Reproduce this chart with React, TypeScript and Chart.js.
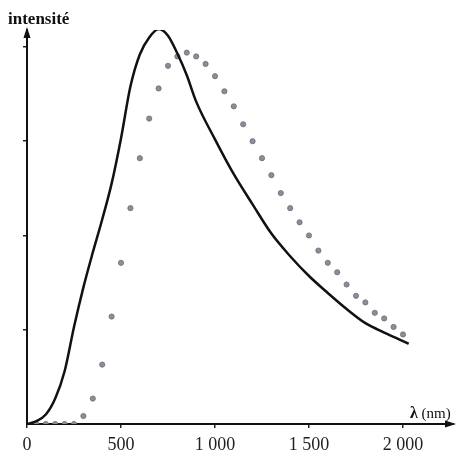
import React, { useEffect, useRef } from "react";
import { Chart, registerables } from "chart.js";

Chart.register(...registerables);

// Solid curve (nm, intensity units)
const lineX = [0, 50, 100, 150, 200, 250, 300, 350, 400, 450, 500, 550, 600, 650, 700, 750, 800, 850, 900, 1000, 1100, 1200, 1300, 1400, 1500, 1600, 1700, 1800, 1900, 2000, 2030];
const lineY = [0, 0.03, 0.1, 0.27, 0.56, 1.03, 1.45, 1.82, 2.17, 2.55, 3.03, 3.58, 3.92, 4.1, 4.19, 4.12, 3.93, 3.7, 3.42, 3.02, 2.65, 2.33, 2.02, 1.78, 1.57, 1.39, 1.22, 1.07, 0.97, 0.88, 0.85];

// Dotted curve
const dotX = [50, 100, 150, 200, 250, 300, 350, 400, 450, 500, 550, 600, 650, 700, 750, 800, 850, 900, 950, 1000, 1050, 1100, 1150, 1200, 1250, 1300, 1350, 1400, 1450, 1500, 1550, 1600, 1650, 1700, 1750, 1800, 1850, 1900, 1950, 2000];
const dotY = [0, 0, 0, 0, 0, 0.085, 0.27, 0.63, 1.14, 1.71, 2.29, 2.82, 3.24, 3.56, 3.8, 3.9, 3.94, 3.9, 3.82, 3.69, 3.53, 3.37, 3.18, 3.0, 2.82, 2.64, 2.45, 2.29, 2.14, 2.0, 1.84, 1.71, 1.61, 1.48, 1.36, 1.29, 1.18, 1.12, 1.03, 0.95];

const xTickValues = [0, 500, 1000, 1500, 2000];
const xTickLabels = ["0", "500", "1 000", "1 500", "2 000"];
const yTickValues = [1, 2, 3, 4];

const yTitle = "intensité";
const xTitleSymbol = "λ";
const xTitleUnit = " (nm)";

const SERIF = '"Liberation Serif", "DejaVu Serif", serif';

const decorPlugin = {
  id: "decor",
  afterDraw(chart: any) {
    const { ctx, chartArea } = chart;
    const { left, top, right, bottom } = chartArea;
    ctx.save();
    ctx.fillStyle = "#111";
    // y arrow
    ctx.beginPath();
    ctx.moveTo(left, top - 3);
    ctx.lineTo(left - 3.5, top + 8);
    ctx.lineTo(left + 3.5, top + 8);
    ctx.closePath();
    ctx.fill();
    // x arrow
    ctx.beginPath();
    ctx.moveTo(right + 3, bottom);
    ctx.lineTo(right - 8, bottom - 3.5);
    ctx.lineTo(right - 8, bottom + 3.5);
    ctx.closePath();
    ctx.fill();
    // titles
    ctx.textBaseline = "alphabetic";
    ctx.textAlign = "left";
    ctx.font = `bold 17px ${SERIF}`;
    ctx.fillText(yTitle, 8, 24);
    ctx.font = `bold 16px ${SERIF}`;
    ctx.fillText(xTitleSymbol, 410, 418);
    const w = ctx.measureText(xTitleSymbol).width;
    ctx.font = `15px ${SERIF}`;
    ctx.fillText(xTitleUnit, 410 + w, 418);
    ctx.restore();
  },
};

export default function App() {
  const ref = useRef<HTMLCanvasElement>(null);
  useEffect(() => {
    if (!ref.current) return;
    const chart = new Chart(ref.current, {
      type: "scatter",
      data: {
        datasets: [
          {
            label: "solid",
            data: lineX.map((x, i) => ({ x, y: lineY[i] })),
            showLine: true,
            borderColor: "#111",
            borderWidth: 2.5,
            pointRadius: 0,
            cubicInterpolationMode: "monotone",
          } as any,
          {
            label: "dots",
            data: dotX.map((x, i) => ({ x, y: dotY[i] })),
            showLine: false,
            pointRadius: 2.6,
            backgroundColor: "#8d8d98",
            borderColor: "#6c6c78",
            borderWidth: 0.8,
          },
        ],
      },
      options: {
        responsive: false,
        animation: false,
        layout: { padding: { top: 30, right: 6, left: 0, bottom: 0 } },
        plugins: { legend: { display: false }, tooltip: { enabled: false }, title: { display: false } },
        scales: {
          x: {
            type: "linear",
            min: 0,
            max: 2266,
            afterBuildTicks: (s: any) => {
              s.ticks = xTickValues.map((v) => ({ value: v }));
            },
            afterFit: (s: any) => {
              s.height = 33;
            },
            ticks: {
              autoSkip: false,
              maxRotation: 0,
              padding: 6,
              color: "#222",
              font: { family: SERIF, size: 18 },
              callback: (_v: any, i: number) => xTickLabels[i],
            },
            grid: { display: true, drawOnChartArea: false, drawTicks: true, tickLength: 4, color: "#222", lineWidth: 1.5 },
            border: { display: true, color: "#111", width: 2 },
          },
          y: {
            min: 0,
            max: 4.18,
            afterBuildTicks: (s: any) => {
              s.ticks = yTickValues.map((v) => ({ value: v }));
            },
            afterFit: (s: any) => {
              s.width = 27;
            },
            ticks: { display: false },
            grid: { display: true, drawOnChartArea: false, drawTicks: true, tickLength: 4, color: "#222", lineWidth: 1.5 },
            border: { display: true, color: "#111", width: 2 },
          },
        },
      },
      plugins: [decorPlugin],
    });
    return () => chart.destroy();
  }, []);
  return (
    <div style={{ position: "fixed", left: 0, top: 0, width: 459, height: 457, background: "#fff" }}>
      <canvas ref={ref} width={459} height={457} style={{ display: "block" }} />
    </div>
  );
}
